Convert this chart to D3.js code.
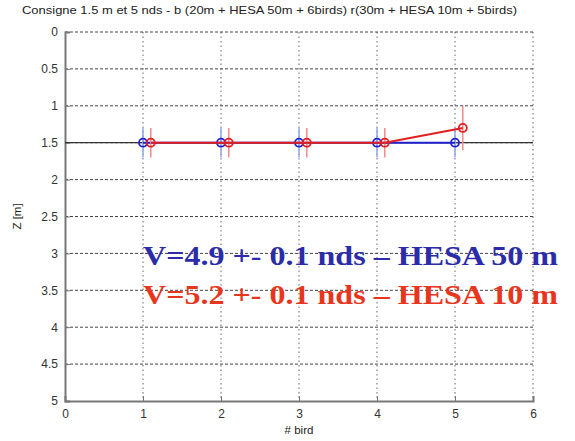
<!DOCTYPE html>
<html><head><meta charset="utf-8">
<script src="https://cdn.jsdelivr.net/npm/d3@7"></script>
<style>body{margin:0;background:#fff}svg{display:block}</style>
</head><body>
<svg id="c" width="575" height="441"></svg>
<script>
// Bird positions (x) and altitudes Z in metres for each run
const blueBirds = [1, 2, 3, 4, 5];
const blueZ = [1.5, 1.5, 1.5, 1.5, 1.5];
const blueErr = [0.2, 0.2, 0.2, 0.2, 0.2];
const redBirds = [1.1, 2.1, 3.1, 4.1, 5.1];
const redZ = [1.5, 1.5, 1.5, 1.5, 1.3];
const redErr = [0.2, 0.2, 0.2, 0.2, 0.3];
const targetZ = 1.5;
const xTicks = [0, 1, 2, 3, 4, 5, 6];
const yTicks = [0, 0.5, 1, 1.5, 2, 2.5, 3, 3.5, 4, 4.5, 5];
const titleText = "Consigne 1.5 m et 5 nds - b (20m + HESA 50m + 6birds)  r(30m + HESA 10m + 5birds)";
const blueLabel = "V=4.9 +- 0.1 nds \u2013 HESA 50 m";
const redLabel = "V=5.2 +- 0.1 nds \u2013 HESA 10 m";

const svg = d3.select("#c");
const m = {l: 65, r: 42, t: 32, b: 40};
const W = 575, H = 441;
const x = d3.scaleLinear().domain([0, 6]).range([m.l, W - m.r]);
const y = d3.scaleLinear().domain([0, 5]).range([m.t, H - m.b]);
const font = "Arial, 'Liberation Sans', sans-serif";

// grid
const g = svg.append("g");
g.selectAll(".gx").data(xTicks.slice(1)).join("line")
  .attr("x1", d => x(d)).attr("x2", d => x(d)).attr("y1", y(0)).attr("y2", y(5))
  .attr("stroke", "#666").attr("stroke-width", 1).attr("stroke-dasharray", "1.5,3");
g.selectAll(".gy").data(yTicks.slice(0, -1)).join("line")
  .attr("x1", x(0)).attr("x2", x(6)).attr("y1", d => y(d)).attr("y2", d => y(d))
  .attr("stroke", "#444").attr("stroke-width", 1).attr("stroke-dasharray", "3,2");

// axes
const xAxis = d3.axisBottom(x).tickValues(xTicks).tickSize(-5).tickPadding(8).tickFormat(d3.format("d"));
const yAxis = d3.axisLeft(y).tickValues(yTicks).tickSize(-5).tickPadding(7).tickFormat(d => d);
const ax = svg.append("g").attr("transform", `translate(0,${y(5)})`).call(xAxis);
const ay = svg.append("g").attr("transform", `translate(${x(0)},0)`).call(yAxis);
[ax, ay].forEach(a => {
  a.select(".domain").attr("stroke", "#777").attr("stroke-width", 2);
  a.selectAll(".tick line").attr("stroke", "#777");
  a.selectAll("text").attr("fill", "#333").style("font", `12px ${font}`);
});

// reference altitude
svg.append("line").attr("x1", x(0)).attr("x2", x(6))
  .attr("y1", y(targetZ)).attr("y2", y(targetZ)).attr("stroke", "#333").attr("stroke-width", 1.2);

function series(xs, zs, es, col, barCol) {
  const pts = xs.map((v, i) => ({x: v, z: zs[i], e: es[i]}));
  svg.append("g").selectAll("line").data(pts).join("line")
    .attr("x1", d => x(d.x)).attr("x2", d => x(d.x))
    .attr("y1", d => y(d.z - d.e)).attr("y2", d => y(d.z + d.e))
    .attr("stroke", barCol).attr("stroke-width", 1.5);
  svg.append("path").datum(pts)
    .attr("d", d3.line().x(d => x(d.x)).y(d => y(d.z)))
    .attr("fill", "none").attr("stroke", col).attr("stroke-width", 2);
  svg.append("g").selectAll("circle").data(pts).join("circle")
    .attr("cx", d => x(d.x)).attr("cy", d => y(d.z)).attr("r", 4)
    .attr("fill", "none").attr("stroke", col).attr("stroke-width", 1.8);
}
series(blueBirds, blueZ, blueErr, "#2020d0", "#8fa8ee");
series(redBirds, redZ, redErr, "#e02020", "#f08a8a");

// title and axis labels
svg.append("text").attr("x", 22).attr("y", 14)
  .attr("textLength", 495).attr("lengthAdjust", "spacingAndGlyphs")
  .attr("fill", "#222").style("font", `11.5px ${font}`).text(titleText);
svg.append("text").attr("x", x(3)).attr("y", 434).attr("text-anchor", "middle")
  .attr("fill", "#222").style("font", `11.5px ${font}`).text("# bird");
svg.append("text").attr("transform", `translate(21,${y(2.5)}) rotate(-90)`).attr("text-anchor", "middle")
  .attr("fill", "#222").style("font", `11.5px ${font}`).text("Z [m]");

// speed annotations
const bigFont = "bold 28px 'Liberation Serif', 'Times New Roman', serif";
svg.append("text").attr("x", 143).attr("y", 265).attr("fill", "#2c2caa")
  .attr("textLength", 415).attr("lengthAdjust", "spacingAndGlyphs")
  .style("font", bigFont).text(blueLabel);
svg.append("text").attr("x", 143).attr("y", 304).attr("fill", "#e8361e")
  .attr("textLength", 415).attr("lengthAdjust", "spacingAndGlyphs")
  .style("font", bigFont).text(redLabel);
</script>
</body></html>
